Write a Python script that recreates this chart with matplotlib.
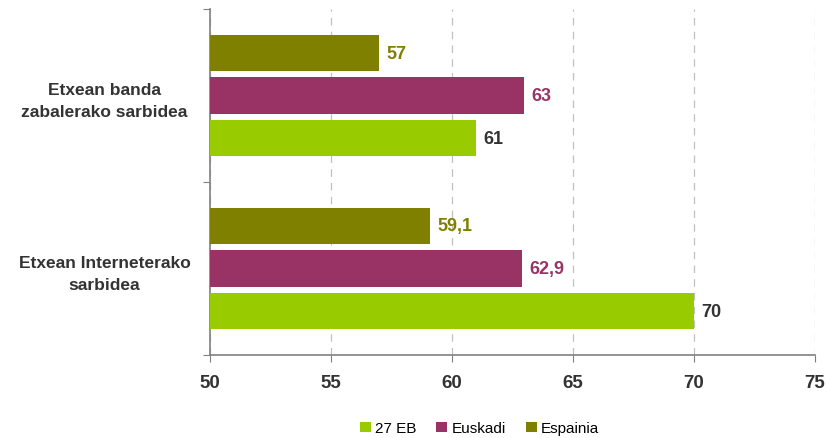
import numpy as np
import matplotlib.pyplot as plt
from matplotlib.patches import Patch

plt.rcParams['font.family'] = ['Liberation Sans', 'DejaVu Sans']

# data
categories = ['Etxean Interneterako\nsarbidea', 'Etxean banda\nzabalerako sarbidea']
series_names = ['27 EB', 'Euskadi', 'Espainia']
eb27 = [70, 61]
euskadi = [62.9, 63]
espainia = [59.1, 57]
labels_eb27 = ['70', '61']
labels_euskadi = ['62,9', '63']
labels_espainia = ['59,1', '57']

colors = ['#99CC00', '#993366', '#808000']
label_colors = ['#333333', '#993366', '#808000']

fig = plt.figure(figsize=(8.27, 4.39), dpi=100)
ax = fig.add_axes([0.254, 0.189, 0.731, 0.788])

y = np.arange(len(categories))
offset = 0.246
h = 0.21
series = [eb27, euskadi, espainia]
slabels = [labels_eb27, labels_euskadi, labels_espainia]
for k, (vals, labs) in enumerate(zip(series, slabels)):
    pos = y + (k - 1) * offset
    ax.barh(pos, np.array(vals) - 50, left=50, height=h, color=colors[k], zorder=3)
    for p, v, t in zip(pos, vals, labs):
        ax.text(v + 0.3, p, t, va='center', ha='left', fontsize=13,
                fontweight='bold', color=label_colors[k])

ax.set_xlim(50, 75)
ax.set_ylim(-0.5, 1.5)
ax.set_xticks([50, 55, 60, 65, 70, 75])
ax.set_xticklabels(['50', '55', '60', '65', '70', '75'], fontsize=13.5,
                   fontweight='bold', color='#333333')
ax.set_yticks([-0.5, 0.5, 1.5])
ax.set_yticklabels([])
ax.set_yticks(y, minor=True)
ax.set_yticklabels(categories, minor=True, fontsize=12.5, fontweight='bold',
                   color='#333333', ha='center', linespacing=1.6)
ax.tick_params(axis='y', which='minor', length=0, pad=76)
ax.tick_params(axis='y', which='major', length=5, color='#808080', direction='out')
ax.tick_params(axis='x', length=5, color='#808080', direction='out', pad=9)

ax.grid(axis='x', linestyle=(0, (6, 5)), color='#c0c0c0', linewidth=0.9, zorder=0)
for s in ['top', 'right']:
    ax.spines[s].set_visible(False)
ax.spines['left'].set_color('#808080')
ax.spines['bottom'].set_color('#808080')
ax.spines['left'].set_linewidth(1.2)
ax.spines['bottom'].set_linewidth(1.2)

handles = [Patch(facecolor=c, label=n) for c, n in zip(colors, series_names)]
fig.legend(handles=handles, loc='lower center', bbox_to_anchor=(0.58, -0.025),
           ncol=3, frameon=False, fontsize=11, handlelength=0.7,
           handleheight=0.7, handletextpad=0.3, columnspacing=1.3)

fig.savefig('out.png', dpi=100)
